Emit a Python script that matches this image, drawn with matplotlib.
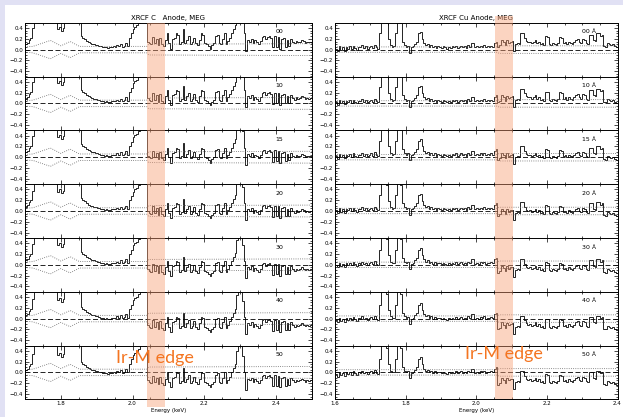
"""
XRCF MEG residuals around the Ir-M edge.

Two stacks of seven residual panels (C anode on the left, Cu anode
on the right), one panel per setting, with the Ir-M edge band shaded.
"""

import numpy as np
import matplotlib
matplotlib.use('Agg')
import matplotlib.pyplot as plt
from matplotlib.patches import Rectangle
from matplotlib.ticker import MultipleLocator
import matplotlib.transforms as mtransforms

FIG_W, FIG_H, DPI = 623, 417, 100
BIN = 0.005

# --- C anode (left stack), panel "00" residuals, 0.005 keV bins from 1.70 ---
c_start = 1.70
c_base = [0.10, 0.13, 0.18, 0.22, 0.40, 0.70, 0.80, 0.80, 0.80, 0.80,
          0.80, 0.80, 0.80, 0.80, 0.80, 0.80, 0.80, 0.60, 0.38, 0.42,
          0.35, 0.40, 0.70, 0.80, 0.80, 0.80, 0.80, 0.80, 0.80, 0.80,
          0.80, 0.26, 0.22, 0.20, 0.16, 0.14, 0.12, 0.11, 0.10, 0.09,
          0.08, 0.07, 0.06, 0.05, 0.04, 0.05, 0.03, 0.04, 0.05, 0.06,
          0.05, 0.08, 0.06, 0.10, 0.05, 0.07, 0.12, 0.06, 0.22, 0.30,
          0.38, 0.42, 0.45, 0.50, 0.70, 0.80, 0.80, 0.70, 0.15, 0.12,
          0.10, 0.24, 0.12, 0.20, 0.08, 0.22, 0.10, 0.06, 0.18, 0.30,
          0.12, 0.02, 0.20, 0.22, 0.30, 0.28, 0.10, 0.14, 0.38, 0.12,
          0.18, 0.25, 0.10, 0.14, 0.22, 0.12, 0.08, 0.18, 0.30, 0.28,
          0.12, 0.10, 0.06, 0.02, 0.08, 0.12, 0.26, 0.28, 0.12, 0.10,
          0.20, 0.30, 0.10, 0.16, 0.22, 0.30, 0.38, 0.45, 0.70, 0.80,
          0.80, 0.60, 0.30, -0.02, 0.18, 0.15, 0.20, 0.12, 0.17, 0.14,
          0.10, 0.16, 0.24, 0.26, 0.20, 0.24, 0.26, 0.22, 0.04, 0.25,
          0.05, 0.24, 0.02, 0.20, 0.22, 0.05, 0.18, 0.06, 0.20, 0.15,
          0.12, 0.16, 0.14, 0.15, 0.18, 0.16, 0.13, 0.15, 0.14, 0.15]
c_labels = ['00', '10', '15', '20', '30', '40', '50']
c_pre_shift = [0.0, -0.01, -0.01, -0.02, -0.02, -0.04, -0.06]
c_post_shift = [0.0, -0.05, -0.12, -0.15, -0.23, -0.27, -0.30]
c_edge = 2.04
# upper error envelope (lower one is its mirror)
c_err_x = [1.70, 1.722, 1.771, 1.80, 1.826, 1.852, 2.04, 2.045, 2.50]
c_err_y = [0.05, 0.06, 0.17, 0.07, 0.15, 0.06, 0.06, 0.10, 0.11]

# --- Cu anode (right stack), panel "00 Å" residuals, 0.005 keV bins from 1.60 ---
cu_start = 1.60
cu_base = [0.02, -0.03, 0.06, 0.00, 0.04, -0.02, 0.05, 0.02, 0.06, 0.01,
           0.07, 0.03, 0.00, 0.05, 0.04, 0.08, 0.03, 0.06, 0.02, 0.05,
           0.07, 0.03, 0.09, 0.04, 0.02, 0.30, 0.60, 0.80, 0.80, 0.50,
           0.20, 0.08, 0.05, 0.06, 0.30, 0.70, 0.80, 0.50, 0.15, 0.08,
           0.05, 0.07, -0.06, 0.04, 0.06, 0.10, 0.15, 0.30, 0.33, 0.20,
           0.12, 0.08, 0.10, 0.05, 0.08, 0.04, 0.07, 0.03, 0.06, 0.05,
           0.03, 0.06, 0.04, 0.02, 0.05, 0.03, 0.06, 0.04, 0.07, 0.03,
           0.05, 0.07, 0.04, 0.06, 0.03, 0.08, 0.05, 0.12, 0.12, 0.04,
           0.06, 0.04, 0.07, 0.05, 0.08, 0.04, 0.06, 0.05, 0.07, 0.05,
           0.12, 0.15, 0.05, 0.08, 0.18, 0.14, 0.08, 0.17, 0.13, 0.15,
           0.16, -0.03, 0.10, 0.12, 0.10, 0.30, 0.30, 0.22, 0.16, 0.14,
           0.15, 0.12, 0.14, 0.18, 0.12, 0.15, 0.10, 0.12, 0.08, 0.25,
           0.24, 0.10, 0.08, 0.12, 0.10, 0.08, 0.12, 0.24, 0.22, 0.12,
           0.14, 0.10, 0.15, 0.12, 0.10, 0.14, 0.18, 0.20, 0.14, 0.12,
           0.20, 0.18, 0.12, 0.10, 0.28, 0.28, 0.18, 0.16, 0.30, 0.30,
           0.26, 0.28, 0.06, 0.05, 0.12, 0.10, 0.08, 0.10, 0.06, 0.04]
cu_labels = ['00 Å', '10 Å', '15 Å', '20 Å', '30 Å', '40 Å', '50 Å']
cu_pre_shift = [0.0, 0.0, 0.0, -0.01, -0.02, -0.04, -0.05]
cu_post_shift = [0.0, -0.03, -0.10, -0.14, -0.20, -0.25, -0.28]
cu_edge = 2.06
cu_err_x = [1.60, 2.06, 2.065, 2.40]
cu_err_y = [0.05, 0.05, 0.07, 0.07]

EDGE_COLOR = '#f7a077'
TEXT_COLOR = '#f47521'


def px_box(x0, x1, y0, y1):
    """Pixel box (y from top) -> figure fraction [left, bottom, width, height]."""
    return [x0 / FIG_W, 1 - y1 / FIG_H, (x1 - x0) / FIG_W, (y1 - y0) / FIG_H]


def style_axis(ax):
    ax.set_ylim(-0.5, 0.5)
    ax.yaxis.set_major_locator(MultipleLocator(0.2))
    ax.yaxis.set_minor_locator(MultipleLocator(0.05))
    ax.xaxis.set_major_locator(MultipleLocator(0.2))
    ax.xaxis.set_minor_locator(MultipleLocator(0.05))
    ax.tick_params(which='both', direction='in', top=True, right=True,
                   width=0.5, labelsize=4, pad=1.5)
    ax.tick_params(which='major', length=3)
    ax.tick_params(which='minor', length=1.5)
    for s in ax.spines.values():
        s.set_linewidth(0.7)


def draw_stack(fig, x0, x1, xlim, start, base, pre, post, edge,
               err_x, err_y, labels, label_x, title, band, band_y):
    edges = np.round(start + BIN * np.arange(len(base) + 1), 4)
    centers = edges[:-1] + BIN / 2
    base = np.array(base)
    top, h = 22.7, (399.3 - 22.7) / 7
    axes = []
    for i, lab in enumerate(labels):
        ax = fig.add_axes(px_box(x0, x1, top + i * h, top + (i + 1) * h))
        ax.set_xlim(*xlim)
        style_axis(ax)

        # residuals for this setting: base spectrum plus the read-off offsets
        vals = base + pre[i] + np.where(centers > edge, post[i] - pre[i], 0.0)
        ax.stairs(vals, edges, color='black', lw=0.6)
        ax.plot(err_x, err_y, ls=':', color='#666666', lw=0.6)
        ax.plot(err_x, -np.array(err_y), ls=':', color='#666666', lw=0.6)
        ax.axhline(0, ls=(0, (6, 3)), color='black', lw=0.6)
        ax.text(label_x, 0.33, lab, fontsize=4.5, ha='center', va='center')

        if i == 0:
            ax.set_title(title, fontsize=5, pad=2)
        if i < len(labels) - 1:
            ax.tick_params(labelbottom=False)
        else:
            ax.set_xlabel('Energy (keV)', fontsize=4, labelpad=1)
        axes.append(ax)

    # Ir-M edge band across the whole stack
    trans = mtransforms.blended_transform_factory(axes[0].transData, fig.transFigure)
    y_lo, y_hi = 1 - band_y[1] / FIG_H, 1 - band_y[0] / FIG_H
    rect = Rectangle((band[0], y_lo), band[1] - band[0], y_hi - y_lo,
                     transform=trans, color=EDGE_COLOR, alpha=0.45, lw=0,
                     clip_on=False, zorder=5)
    fig.add_artist(rect)
    return axes


fig = plt.figure(figsize=(FIG_W / DPI, FIG_H / DPI), dpi=DPI, facecolor='#e1e1f4')
fig.add_artist(Rectangle((5 / FIG_W, 0), 1, 1 - 5 / FIG_H, transform=fig.transFigure,
                         color='white', lw=0, zorder=-10))

draw_stack(fig, 25, 311.7, (1.70, 2.50), c_start, c_base, c_pre_shift, c_post_shift,
           c_edge, c_err_x, c_err_y, c_labels, 2.41,
           'XRCF C   Anode, MEG', (2.04, 2.092), (22.7, 407))
draw_stack(fig, 335, 617.5, (1.60, 2.40), cu_start, cu_base, cu_pre_shift, cu_post_shift,
           cu_edge, cu_err_x, cu_err_y, cu_labels, 2.32,
           'XRCF Cu Anode, MEG', (2.052, 2.103), (16, 399.3))

fig.text(155 / FIG_W, 1 - 358 / FIG_H, 'Ir-M edge', color=TEXT_COLOR,
         fontsize=13, family='Lato', ha='center', va='center', zorder=20)
fig.text(504 / FIG_W, 1 - 354 / FIG_H, 'Ir-M edge', color=TEXT_COLOR,
         fontsize=13, family='Lato', ha='center', va='center', zorder=20)

fig.savefig('out.png', dpi=DPI, facecolor=fig.get_facecolor())
